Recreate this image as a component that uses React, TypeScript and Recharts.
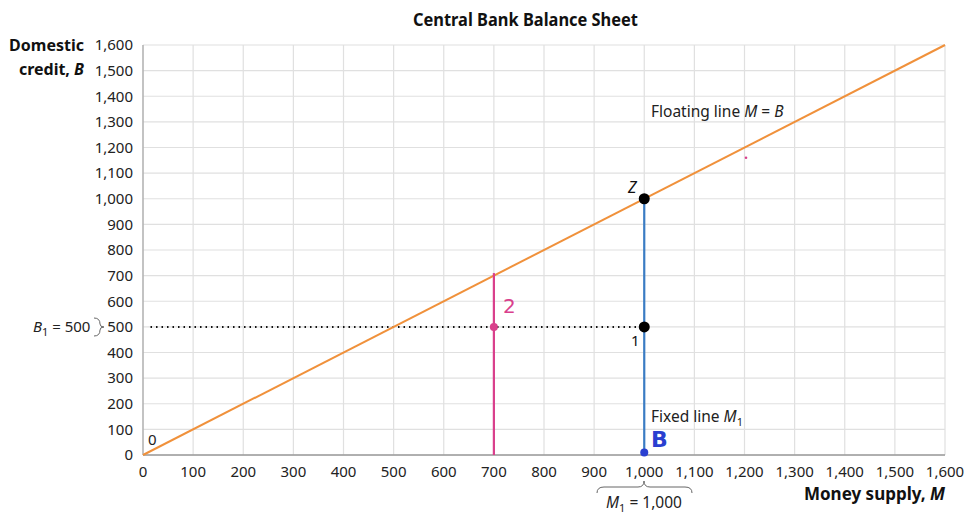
import { CartesianGrid, ComposedChart, ReferenceLine, Scatter, XAxis, YAxis } from "recharts";

// axis ticks (both axes run 0–1,600 in steps of 100)
const axisTicks = [0, 100, 200, 300, 400, 500, 600, 700, 800, 900, 1000, 1100, 1200, 1300, 1400, 1500, 1600];

// floating line M = B
const floatingLine = [
  { m: 0, b: 0 },
  { m: 1600, b: 1600 },
];
// fixed line M1 = 1,000
const fixedLine = [
  { m: 1000, b: 0 },
  { m: 1000, b: 1000 },
];
// hand-drawn pink line at M = 700
const penLine = [
  { m: 700, b: 0 },
  { m: 700, b: 710 },
];
// dotted B1 = 500 guide
const b1Guide = [
  { m: 15, b: 500 },
  { m: 1000, b: 500 },
];
const blackPoints = [
  { m: 1000, b: 1000 },
  { m: 1000, b: 500 },
];
const pinkPoints = [{ m: 700, b: 500 }];
const pinkSpeck = [{ m: 1203, b: 1160 }];
const bluePoints = [{ m: 1000, b: 10 }];

const W = 971;
const H = 520;
const FONT = "'Noto Sans', sans-serif";
const ORANGE = "#f0913b";
const BLUE = "#3a7cc4";
const PINK = "#d9408c";

const fmt = (v: number) => v.toLocaleString("en-US");

const dot = (r: number, fill: string) => (p: any) =>
  <circle cx={p.cx} cy={p.cy} r={r} fill={fill} />;
const none = () => <g />;

export default function App() {
  return (
    <div style={{ position: "absolute", left: 0, top: 0, width: W, height: H, background: "#fff" }}>
      <ComposedChart width={W} height={H} margin={{ top: 45, right: 26, bottom: 0, left: 0 }}>
        <CartesianGrid stroke="#e0e0e0" strokeWidth={1.2} />
        <XAxis
          type="number"
          dataKey="m"
          domain={[0, 1600]}
          ticks={axisTicks}
          tickFormatter={fmt}
          interval={0}
          height={65}
          tickLine={false}
          tickMargin={5}
          stroke="#9a9a9a"
          tick={{ fill: "#222", fontSize: 15, fontFamily: FONT }}
        />
        <YAxis
          type="number"
          dataKey="b"
          domain={[0, 1600]}
          ticks={axisTicks}
          tickFormatter={fmt}
          interval={0}
          width={143}
          tickLine={false}
          tickMargin={4}
          stroke="#9a9a9a"
          tick={{ fill: "#222", fontSize: 15, fontFamily: FONT }}
        />
        <Scatter data={b1Guide} line={{ stroke: "#111", strokeWidth: 2, strokeDasharray: "1.5 4" }} shape={none} isAnimationActive={false} />
        <Scatter data={floatingLine} line={{ stroke: ORANGE, strokeWidth: 2 }} shape={none} isAnimationActive={false} />
        <Scatter data={penLine} line={{ stroke: PINK, strokeWidth: 2.2 }} shape={none} isAnimationActive={false} />
        <Scatter data={fixedLine} line={{ stroke: BLUE, strokeWidth: 2.2 }} shape={none} isAnimationActive={false} />
        <Scatter data={pinkPoints} shape={dot(4, PINK)} isAnimationActive={false} />
        <Scatter data={pinkSpeck} shape={dot(1.3, PINK)} isAnimationActive={false} />
        <Scatter data={bluePoints} shape={dot(4, "#2a3fd0")} isAnimationActive={false} />
        <Scatter data={blackPoints} shape={dot(5.5, "#000")} isAnimationActive={false} />
        <ReferenceLine y={0} stroke="#9a9a9a" />
      </ComposedChart>

      <svg width={W} height={H} style={{ position: "absolute", left: 0, top: 0, pointerEvents: "none" }} fontFamily={FONT}>
        <text x={413} y={26} fontSize={18} fontWeight={700} fill="#111" textLength={225} lengthAdjust="spacingAndGlyphs">
          Central Bank Balance Sheet
        </text>
        <text x={84} y={51} textAnchor="end" fontSize={16} fontWeight={700} fill="#111">Domestic</text>
        <text x={84} y={75} textAnchor="end" fontSize={16} fontWeight={700} fill="#111">
          credit, <tspan fontStyle="italic">B</tspan>
        </text>
        <text x={945} y={500} textAnchor="end" fontSize={17} fontWeight={700} fill="#111">
          Money supply,  <tspan fontStyle="italic">M</tspan>
        </text>

        {/* B1 = 500 with brace */}
        <text x={33} y={332} fontSize={15} fill="#222">
          <tspan fontStyle="italic">B</tspan>
          <tspan fontSize={11} dy={4}>1</tspan>
          <tspan dy={-4}> = 500</tspan>
        </text>
        <path d="M94,318 Q100,318 100,324 Q100,327 104,327 Q100,327 100,330 Q100,336 94,336" fill="none" stroke="#666" strokeWidth={1} />

        {/* M1 = 1,000 with brace */}
        <path d="M597,493 Q597,487 604,487 L638,487 Q644,487 644,481 Q644,487 650,487 L685,487 Q692,487 692,493" fill="none" stroke="#666" strokeWidth={1} />
        <text x={644} y={508} textAnchor="middle" fontSize={15.5} fill="#222">
          <tspan fontStyle="italic">M</tspan>
          <tspan fontSize={11} dy={4}>1</tspan>
          <tspan dy={-4}> = 1,000</tspan>
        </text>

        {/* in-plot labels */}
        <text x={651} y={117} fontSize={15.5} fill="#222">
          Floating line  <tspan fontStyle="italic">M</tspan> =  <tspan fontStyle="italic">B</tspan>
        </text>
        <text x={651} y={422} fontSize={15.5} fill="#222">
          Fixed line  <tspan fontStyle="italic">M</tspan>
          <tspan fontSize={11} dy={4}>1</tspan>
        </text>
        <text x={628} y={193} fontSize={16} fontStyle="italic" fill="#111">Z</text>
        <text x={631} y={346} fontSize={15} fill="#111">1</text>
        <text x={148} y={445} fontSize={15} fill="#222">0</text>

        {/* handwritten marks */}
        <text x={503} y={313} fontSize={20} fill={PINK} fontFamily="'DejaVu Sans', sans-serif">2</text>
        <text x={651} y={447} fontSize={22} fontWeight={700} fill="#2a3fd0" fontFamily="'DejaVu Sans', sans-serif">B</text>
      </svg>
    </div>
  );
}
